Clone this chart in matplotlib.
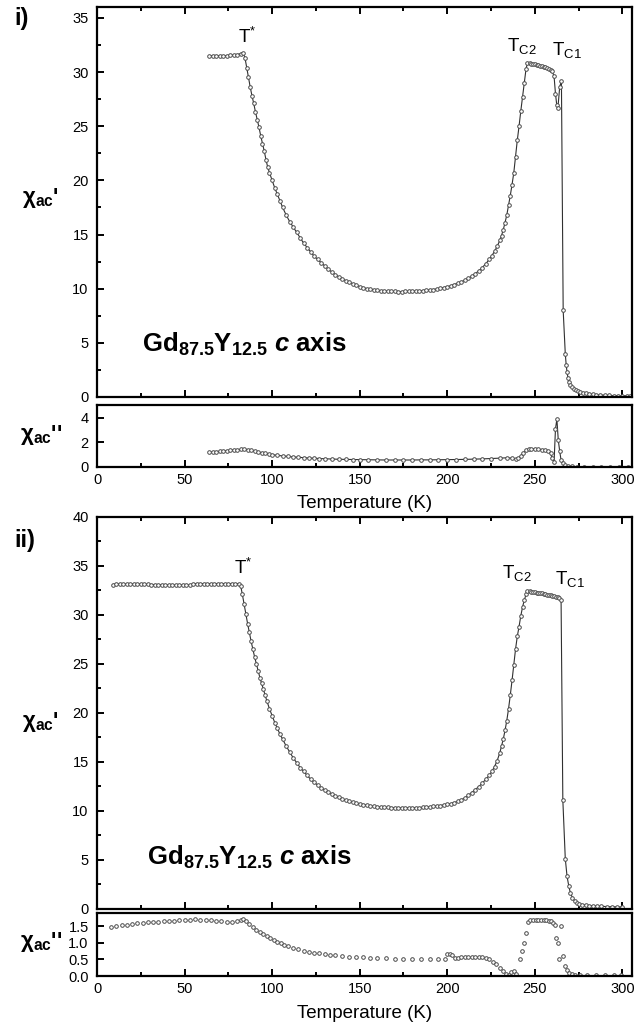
import matplotlib
matplotlib.use("Agg")
import matplotlib.pyplot as plt
from matplotlib.ticker import MultipleLocator

plt.rcParams['font.family'] = ['Liberation Sans', 'DejaVu Sans']
plt.rcParams['mathtext.fontset'] = 'custom'
plt.rcParams['mathtext.rm'] = 'Liberation Sans'
plt.rcParams['mathtext.bf'] = 'Liberation Sans:bold'
plt.rcParams['mathtext.it'] = 'Liberation Sans:italic:bold'
plt.rcParams['mathtext.default'] = 'regular'

# ---------------- data: panel i ----------------
T_i_real = [64, 66, 68, 70, 72, 74, 76, 78, 80, 82, 83.5, 84.5, 85.5, 86.5, 87.5, 88.5, 89.5, 90.5,
            91.5, 92.5, 93.5, 94.5, 95.5, 96.5, 97.5, 98.5, 100, 101.5, 103, 104.5, 106, 108, 110,
            112, 114, 116, 118, 120, 122, 124, 126, 128, 130, 132, 134, 136, 138, 140, 142, 144,
            146, 148, 150, 152, 154, 156, 158, 160, 162, 164, 166, 168, 170, 172, 174, 176, 178,
            180, 182, 184, 186, 188, 190, 192, 194, 196, 198, 200, 202, 204, 206, 208, 210, 212,
            214, 216, 218, 220, 222, 224, 225.5, 227, 228.5, 230, 231, 232, 233, 234, 235, 236,
            237, 238, 239, 240, 241, 242, 243, 244, 245, 245.8, 247, 248, 249, 250, 251, 252, 253,
            254, 255, 256, 257, 258, 259, 260, 261, 261.8, 262.5, 263.2, 264.2, 265.2, 266.2,
            267.4, 267.9, 268.4, 268.9, 269.5, 270.3, 271.2, 272.2, 273.3, 274.5, 276, 277.5,
            279, 281, 283, 285, 287.5, 290, 292.5, 295, 297.5, 300, 302.5, 304.5]
chi_i_real = [31.5, 31.5, 31.5, 31.5, 31.5, 31.5, 31.55, 31.55, 31.6, 31.7, 31.8, 31.3, 30.4, 29.5,
              28.6, 27.8, 27.1, 26.3, 25.6, 24.9, 24.1, 23.4, 22.7, 21.9, 21.2, 20.7, 20.0, 19.3,
              18.7, 18.1, 17.5, 16.8, 16.2, 15.7, 15.2, 14.7, 14.2, 13.8, 13.4, 13.0, 12.7, 12.4,
              12.1, 11.8, 11.55, 11.3, 11.1, 10.9, 10.75, 10.6, 10.45, 10.3, 10.2, 10.1, 10.0,
              9.95, 9.9, 9.85, 9.8, 9.78, 9.76, 9.75, 9.74, 9.73, 9.73, 9.74, 9.75, 9.76, 9.78,
              9.8, 9.82, 9.85, 9.88, 9.92, 9.97, 10.03, 10.1, 10.18, 10.27, 10.38, 10.5, 10.63,
              10.78, 10.95, 11.15, 11.38, 11.65, 11.95, 12.3, 12.7, 13.05, 13.45, 13.9, 14.45,
              14.9, 15.45, 16.1, 16.8, 17.7, 18.6, 19.6, 20.7, 22.2, 23.7, 25.0, 26.4, 27.7,
              29.0, 30.3, 30.8, 30.8, 30.78, 30.75, 30.72, 30.68, 30.64, 30.6, 30.55, 30.5,
              30.45, 30.4, 30.32, 30.22, 30.05, 29.6, 28.0, 27.0, 26.7, 28.6, 29.2, 8.0, 4.0,
              3.0, 2.3, 1.8, 1.4, 1.1, 0.9, 0.75, 0.62, 0.52, 0.44, 0.38, 0.33, 0.28, 0.24, 0.21,
              0.18, 0.16, 0.14, 0.13, 0.12, 0.11, 0.1, 0.1]

T_i_imag = [64, 66, 68, 70, 72, 74, 76, 78, 80, 82, 84, 86, 88, 90, 92, 94, 96, 98, 100, 103, 106,
            109, 112, 115, 118, 121, 124, 127, 130, 134, 138, 142, 146, 150, 155, 160, 165, 170,
            175, 180, 185, 190, 195, 200, 205, 210, 215, 220, 225, 230, 234, 237, 239, 240.5,
            242, 243.5, 245, 246.5, 248, 250, 252, 254, 256, 257.5, 259, 260, 261, 261.8, 262.6,
            263.4, 264.2, 265, 266, 267.5, 269, 271, 274, 278, 283, 288, 293, 298, 303]
chi_i_imag = [1.2, 1.22, 1.25, 1.28, 1.3, 1.32, 1.35, 1.38, 1.4, 1.43, 1.45, 1.42, 1.35, 1.28, 1.22,
              1.16, 1.1, 1.05, 1.0, 0.95, 0.9, 0.86, 0.82, 0.79, 0.76, 0.73, 0.71, 0.69, 0.67,
              0.65, 0.63, 0.62, 0.61, 0.6, 0.59, 0.58, 0.57, 0.57, 0.57, 0.57, 0.58, 0.58, 0.59,
              0.6, 0.61, 0.62, 0.64, 0.66, 0.69, 0.72, 0.75, 0.72, 0.65, 0.7, 0.9, 1.15, 1.35,
              1.45, 1.48, 1.47, 1.45, 1.42, 1.38, 1.3, 1.1, 0.7, 0.4, 3.1, 3.9, 2.2, 1.3, 0.55,
              0.3, 0.15, 0.08, 0.05, 0.03, 0.02, 0.02, 0.02, 0.02, 0.02, 0.02]

# ---------------- data: panel ii ----------------
T_ii_real = [9, 11, 13, 15, 17, 19, 21, 23, 25, 27, 29, 31, 33, 35, 37, 39, 41, 43, 45, 47, 49, 51,
             53, 55, 57, 59, 61, 63, 65, 67, 69, 71, 73, 75, 77, 79, 81, 82, 83, 84, 85, 86, 87,
             88, 89, 90, 91, 92, 93, 94, 95, 96, 97, 98.5, 100, 101.5, 103, 104.5, 106, 108, 110,
             112, 114, 116, 118, 120, 122, 124, 126, 128, 130, 132, 134, 136, 138, 140, 142, 144,
             146, 148, 150, 152, 154, 156, 158, 160, 162, 164, 166, 168, 170, 172, 174, 176, 178,
             180, 182, 184, 186, 188, 190, 192, 194, 196, 198, 200, 202, 204, 206, 208, 210, 212,
             214, 216, 218, 220, 222, 224, 225.5, 227, 228.5, 230, 231, 232, 233, 234, 235, 236,
             237, 238, 239, 240, 241, 242, 243, 244, 245, 245.8, 247, 248, 249, 250, 251, 252,
             253, 254, 255, 256, 257, 258, 259, 260, 261, 262, 263, 264, 265, 266, 267.4, 268.4,
             269.4, 270.3, 271.5, 272.7, 274, 275.5, 277, 279, 281, 283, 285.5, 288, 291, 294,
             297, 300]
chi_ii_real = [33.1, 33.15, 33.15, 33.15, 33.15, 33.15, 33.15, 33.15, 33.15, 33.15, 33.12, 33.1,
               33.1, 33.08, 33.07, 33.06, 33.05, 33.05, 33.05, 33.05, 33.05, 33.05, 33.05, 33.18,
               33.2, 33.2, 33.2, 33.2, 33.2, 33.2, 33.2, 33.2, 33.2, 33.2, 33.2, 33.2, 33.2, 33.0,
               32.1, 31.1, 30.1, 29.1, 28.2, 27.3, 26.5, 25.7, 25.0, 24.3, 23.6, 23.0, 22.4, 21.8,
               21.2, 20.4, 19.7, 19.0, 18.4, 17.8, 17.3, 16.6, 16.0, 15.4, 14.9, 14.4, 14.0, 13.6,
               13.2, 12.9, 12.6, 12.35, 12.1, 11.9, 11.7, 11.5, 11.35, 11.2, 11.05, 10.95, 10.85,
               10.75, 10.68, 10.6, 10.54, 10.48, 10.43, 10.4, 10.37, 10.34, 10.32, 10.3, 10.29,
               10.28, 10.28, 10.28, 10.28, 10.29, 10.3, 10.31, 10.33, 10.36, 10.39, 10.43, 10.47,
               10.52, 10.58, 10.64, 10.72, 10.82, 10.95, 11.1, 11.3, 11.55, 11.85, 12.15, 12.45,
               12.8, 13.2, 13.6, 14.0, 14.5, 15.1, 15.9, 16.6, 17.3, 18.2, 19.2, 20.4, 21.8, 23.3,
               24.9, 26.5, 27.8, 28.8, 29.9, 30.8, 31.5, 32.1, 32.4, 32.4, 32.38, 32.35, 32.3,
               32.28, 32.25, 32.22, 32.2, 32.15, 32.12, 32.08, 32.05, 32.0, 31.95, 31.9, 31.85,
               31.78, 31.7, 31.55, 11.1, 5.1, 3.3, 2.3, 1.6, 1.1, 0.8, 0.6, 0.48, 0.4, 0.34, 0.3,
               0.27, 0.24, 0.22, 0.2, 0.18, 0.17, 0.16]

T_ii_imag = [8, 11, 14, 17, 20, 23, 26, 29, 32, 35, 38, 41, 44, 47, 50, 53, 56, 59, 62, 65, 68, 71,
             74, 77, 80, 82, 83.5, 85, 87, 89, 91, 93, 95, 97, 99, 101, 103, 105, 107, 109, 112,
             115, 118, 121, 124, 127, 130, 133, 136, 140, 144, 148, 152, 156, 160, 165, 170, 175,
             180, 185, 190, 195, 199, 200, 201.5, 203, 204.5, 206, 208, 210, 212, 214, 216, 218,
             220, 222, 224, 226, 228, 230, 232, 233.5, 235, 236.5, 238, 239.5, 241.3, 242.5,
             243.7, 244.9, 246, 247.5, 249, 250.5, 252, 253.5, 255, 256.5, 258, 259.5, 260.5,
             261.5, 262.3, 263.2, 264, 265.2, 266.2, 267.2, 268.2, 269.5, 271, 273, 276, 280,
             285, 290, 295, 299]
chi_ii_imag = [1.48, 1.5, 1.52, 1.54, 1.56, 1.58, 1.6, 1.61, 1.62, 1.63, 1.64, 1.65, 1.66, 1.67,
               1.68, 1.69, 1.7, 1.69, 1.68, 1.67, 1.66, 1.65, 1.63, 1.62, 1.64, 1.68, 1.7, 1.64,
               1.55, 1.47, 1.39, 1.32, 1.25, 1.19, 1.13, 1.08, 1.03, 0.98, 0.94, 0.9, 0.85, 0.8,
               0.76, 0.73, 0.7, 0.68, 0.66, 0.64, 0.62, 0.6, 0.58, 0.57, 0.56, 0.55, 0.54, 0.53,
               0.52, 0.52, 0.51, 0.51, 0.5, 0.5, 0.5, 0.65, 0.66, 0.62, 0.54, 0.55, 0.56, 0.57,
               0.58, 0.58, 0.58, 0.58, 0.57, 0.55, 0.5, 0.43, 0.35, 0.25, 0.14, 0.06, 0.02, 0.12,
               0.14, 0.06, 0.5, 0.75, 1.0, 1.28, 1.62, 1.68, 1.69, 1.69, 1.69, 1.68, 1.68, 1.67,
               1.66, 1.64, 1.6, 1.52, 1.15, 1.0, 0.5, 1.5, 0.6, 0.3, 0.18, 0.1, 0.06, 0.04, 0.03,
               0.03, 0.03, 0.03, 0.03, 0.03]

x_ticks = [0, 50, 100, 150, 200, 250, 300]
sample_label = r"Gd$_{\mathbf{87.5}}$Y$_{\mathbf{12.5}}$ $\mathit{c}$ axis"

# ---------------- figure ----------------
W, H = 637, 1028
fig = plt.figure(figsize=(W / 100, H / 100), dpi=100)


def pos(l, t, r, b):
    return [l / W, 1 - b / H, (r - l) / W, (b - t) / H]


def ftext(x, y, s, **kw):
    fig.text(x / W, 1 - y / H, s, **kw)


def style(ax, ylim, ymaj, ymin=None, xlabels=False):
    ax.set_xlim(0, 305.5)
    ax.set_ylim(*ylim)
    ax.xaxis.set_major_locator(MultipleLocator(50))
    ax.xaxis.set_minor_locator(MultipleLocator(25))
    ax.yaxis.set_major_locator(MultipleLocator(ymaj))
    if ymin:
        ax.yaxis.set_minor_locator(MultipleLocator(ymin))
    for s in ax.spines.values():
        s.set_linewidth(1.6)
    ax.tick_params(which='both', direction='in', top=True, right=False,
                   width=1.4, labelsize=10.5, pad=6)
    ax.tick_params(which='major', length=5)
    ax.tick_params(which='minor', length=3)
    if not xlabels:
        ax.tick_params(axis='x', labelbottom=False)
    else:
        ax.set_xticks(x_ticks)
        ax.tick_params(axis='x', pad=4)


mk = dict(marker='o', markersize=2.6, markerfacecolor='white', markeredgecolor='#4a4a4a',
          markeredgewidth=0.7, color='#303030', linewidth=0.8)

ax1 = fig.add_axes(pos(97, 7, 632, 397))
ax1.plot(T_i_real, chi_i_real, **mk)
style(ax1, (0, 36), 5, 2.5)

ax1b = fig.add_axes(pos(97, 405, 632, 467))
ax1b.plot(T_i_imag, chi_i_imag, **mk)
style(ax1b, (0, 5.05), 2, None, xlabels=True)
ax1b.tick_params(axis='x', top=False, which='both')

ax2 = fig.add_axes(pos(97, 517, 632, 908.5))
ax2.plot(T_ii_real, chi_ii_real, **mk)
style(ax2, (0, 40), 5, 2.5)

ax2b = fig.add_axes(pos(97, 913, 632, 976))
mk2 = dict(mk)
mk2['linestyle'] = 'none'
ax2b.plot(T_ii_imag, chi_ii_imag, **mk2)
style(ax2b, (0, 1.89), 0.5, None, xlabels=True)
ax2b.tick_params(axis='x', top=False, which='both')
ax2b.set_yticks([0.0, 0.5, 1.0, 1.5])
ax2b.set_yticklabels(['0.0', '0.5', '1.0', '1.5'])

# annotations
ann = dict(ha='center', va='center', fontsize=13.5)
ax1.text(85.8, 33.2, r"T$^{*}$", **ann)
ax1.text(242.8, 32.4, r"T$_{\mathrm{C2}}$", **ann)
ax1.text(268.5, 32.0, r"T$_{\mathrm{C1}}$", **ann)
ax2.text(83.5, 34.8, r"T$^{*}$", **ann)
ax2.text(240, 34.3, r"T$_{\mathrm{C2}}$", **ann)
ax2.text(270, 33.7, r"T$_{\mathrm{C1}}$", **ann)

ax1.text(25.7, 4.17, sample_label, fontsize=18.5, fontweight='bold', ha='left', va='baseline')
ax2.text(28.6, 4.49, sample_label, fontsize=18.5, fontweight='bold', ha='left', va='baseline')

# panel labels
ftext(14, 19, "i)", fontsize=17, fontweight='bold', ha='left', va='center')
ftext(14, 540, "ii)", fontsize=17, fontweight='bold', ha='left', va='center')

# y labels
ylab = dict(fontsize=16, fontweight='bold', ha='left', va='center')
ftext(22, 198, r"χ$_{\mathbf{ac}}$'", **ylab)
ftext(20, 435, r"χ$_{\mathbf{ac}}$''", **ylab)
ftext(22, 722, r"χ$_{\mathbf{ac}}$'", **ylab)
ftext(20, 942, r"χ$_{\mathbf{ac}}$''", **ylab)

# x labels
ftext(365, 503, "Temperature (K)", fontsize=13.5, ha='center', va='center')
ftext(365, 1013, "Temperature (K)", fontsize=13.5, ha='center', va='center')

fig.savefig("out.png", dpi=100)
